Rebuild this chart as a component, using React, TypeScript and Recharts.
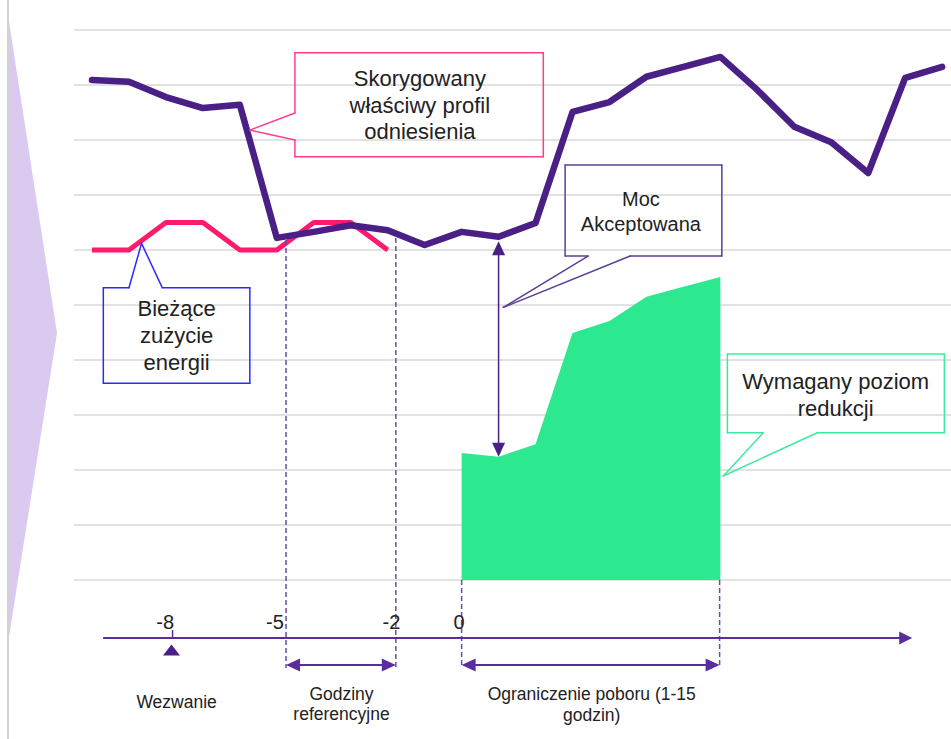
import {
  Area,
  CartesianGrid,
  ComposedChart,
  Line,
  ReferenceDot,
  ReferenceLine,
  XAxis,
  YAxis,
} from "recharts";

// hourly slots, 0 = call at -10h ... slot 10 = start of the restriction
const slots = [0, 1, 2, 3, 4, 5, 6, 7, 8, 9, 10, 11, 12, 13, 14, 15, 16, 17, 18, 19, 20, 21, 22, 23];
const referenceProfile = [
  9.09, 9.06, 8.78, 8.58, 8.64, 6.22, 6.33, 6.45, 6.36, 6.09, 6.33, 6.24,
  6.49, 8.51, 8.69, 9.15, 9.33, 9.51, 8.91, 8.24, 7.96, 7.4, 9.13, 9.33,
];
const currentUsage = [
  6, 6, 6.5, 6.5, 6, 6, 6.5, 6.5, 6, null, null, null,
  null, null, null, null, null, null, null, null, null, null, null, null,
];
const requiredReduction = [
  null, null, null, null, null, null, null, null, null, null, 2.31, 2.24,
  2.47, 4.49, 4.71, 5.15, 5.33, 5.51, null, null, null, null, null, null,
];
const gridValues = [0, 1, 2, 3, 4, 5, 6, 7, 8, 9, 10];
const hourLabels = ["-8", "-5", "-2", "0"];

const rows = slots.map((slot, i) => ({
  slot,
  profile: referenceProfile[i],
  current: currentUsage[i],
  reduction: requiredReduction[i],
}));

const PURPLE = "#4a1f86";
const PINK = "#ff1a6e";
const GREEN = "#2ce98f";
const AXIS = "#5a2d9c";
const DASH = "#6a4ca6";
const FONT = "'Liberation Sans', Arial, sans-serif";

// where the timeline marks sit, in slot units
const hourLabelX = [1.98, 4.95, 8.1, 9.93];
const AXIS_Y = -1.055;
const BRACKET_Y = -1.545;

function MultiLine({ cx, cy, lines, size, lh }: any) {
  const top = cy - ((lines.length - 1) * lh) / 2 + size * 0.36;
  return (
    <text textAnchor="middle" fontFamily={FONT} fontSize={size} fill="#222">
      {lines.map((l: string, i: number) => (
        <tspan key={i} x={cx} y={top + i * lh}>
          {l}
        </tspan>
      ))}
    </text>
  );
}

function textAt(id: string, x: number, y: number, lines: string[], size: number, lh = size * 1.2) {
  return (
    <ReferenceDot
      key={id}
      x={x}
      y={y}
      r={0}
      ifOverflow="visible"
      shape={(p: any) => <MultiLine cx={p.cx} cy={p.cy} lines={lines} size={size} lh={lh} />}
    />
  );
}

function arrowShape(start: boolean, end: boolean, color: string, width = 1.5, head = 14, half = 6.5) {
  return (p: any) => {
    const { x1, y1, x2, y2 } = p;
    const dx = x2 - x1;
    const dy = y2 - y1;
    const len = Math.hypot(dx, dy) || 1;
    const ux = dx / len;
    const uy = dy / len;
    const nx = -uy;
    const ny = ux;
    const tri = (tx: number, ty: number, sx: number, sy: number) =>
      `${tx},${ty} ${tx - sx * head + nx * half},${ty - sy * head + ny * half} ${tx - sx * head - nx * half},${ty - sy * head - ny * half}`;
    return (
      <g>
        <line
          x1={start ? x1 + ux * head * 0.7 : x1}
          y1={start ? y1 + uy * head * 0.7 : y1}
          x2={end ? x2 - ux * head * 0.7 : x2}
          y2={end ? y2 - uy * head * 0.7 : y2}
          stroke={color}
          strokeWidth={width}
        />
        {end && <polygon points={tri(x2, y2, ux, uy)} fill={color} />}
        {start && <polygon points={tri(x1, y1, -ux, -uy)} fill={color} />}
      </g>
    );
  };
}

function outline(id: string, pts: number[][], color: string) {
  return pts.slice(1).map((pt, i) => (
    <ReferenceLine
      key={`${id}-${i}`}
      segment={[
        { x: pts[i][0], y: pts[i][1] },
        { x: pt[0], y: pt[1] },
      ]}
      stroke={color}
      strokeWidth={1.5}
      strokeLinecap="round"
      ifOverflow="visible"
    />
  ));
}

function dashed(id: string, x: number, from: number, to: number) {
  return (
    <ReferenceLine
      key={id}
      segment={[
        { x, y: from },
        { x, y: to },
      ]}
      stroke={DASH}
      strokeWidth={1.5}
      strokeDasharray="5 3"
      ifOverflow="visible"
    />
  );
}

export default function App() {
  return (
    <div style={{ position: "absolute", left: 0, top: 0, width: 951, height: 739, background: "#fff" }}>
      <svg width={951} height={739} style={{ position: "absolute", left: 0, top: 0 }}>
        <polygon points="8,15 57,333 8,643" fill="#dacaef" />
        <line x1={8} y1={0} x2={8} y2={739} stroke="#d2d2d2" strokeWidth={2} />
      </svg>
      <div style={{ position: "absolute", left: 0, top: 0 }}>
        <ComposedChart width={951} height={739} data={rows} margin={{ top: 30, right: 0, bottom: 16, left: 74 }}>
          <CartesianGrid vertical={false} horizontalValues={gridValues} stroke="#d8d8d8" strokeWidth={1.5} />
          <XAxis dataKey="slot" type="number" domain={[-0.487, 23.24]} allowDataOverflow hide />
          <YAxis type="number" domain={[-2.6, 10]} allowDataOverflow hide />
          <Area
            type="linear"
            dataKey="reduction"
            baseValue={0}
            fill={GREEN}
            fillOpacity={1}
            stroke="none"
            isAnimationActive={false}
          />
          <Line
            type="linear"
            dataKey="current"
            stroke={PINK}
            strokeWidth={5}
            dot={false}
            strokeLinejoin="round"
            isAnimationActive={false}
          />
          <Line
            type="linear"
            dataKey="profile"
            stroke={PURPLE}
            strokeWidth={6.5}
            dot={false}
            strokeLinejoin="round"
            strokeLinecap="round"
            isAnimationActive={false}
          />

          {dashed("d1", 5.25, 6.18, -1.6)}
          {dashed("d2", 8.22, 6.22, -1.6)}
          {dashed("d3", 10, 0, -1.6)}
          {dashed("d4", 16.98, 0, -1.6)}

          <ReferenceLine
            segment={[
              { x: 11, y: referenceProfile[11] - 0.08 },
              { x: 11, y: requiredReduction[11] as number },
            ]}
            ifOverflow="visible"
            shape={arrowShape(true, true, PURPLE, 1.5, 14, 6.5)}
          />

          <ReferenceLine
            segment={[
              { x: 0.3, y: AXIS_Y },
              { x: 22.19, y: AXIS_Y },
            ]}
            ifOverflow="visible"
            shape={arrowShape(false, true, AXIS, 2, 13, 6.5)}
          />
          <ReferenceLine
            segment={[
              { x: 2.18, y: -0.909 },
              { x: 2.18, y: AXIS_Y },
            ]}
            stroke={AXIS}
            strokeWidth={1.5}
            ifOverflow="visible"
          />
          <ReferenceDot
            x={2.15}
            y={-1.282}
            r={0}
            ifOverflow="visible"
            shape={(p: any) => (
              <polygon
                points={`${p.cx},${p.cy - 6} ${p.cx + 8.5},${p.cy + 5} ${p.cx - 8.5},${p.cy + 5}`}
                fill={PURPLE}
              />
            )}
          />
          <ReferenceLine
            segment={[
              { x: 5.25, y: BRACKET_Y },
              { x: 8.22, y: BRACKET_Y },
            ]}
            ifOverflow="visible"
            shape={arrowShape(true, true, AXIS, 2, 14, 6.5)}
          />
          <ReferenceLine
            segment={[
              { x: 10, y: BRACKET_Y },
              { x: 16.98, y: BRACKET_Y },
            ]}
            ifOverflow="visible"
            shape={arrowShape(true, true, AXIS, 2, 14, 6.5)}
          />

          {outline(
            "skor",
            [
              [5.49, 8.49],
              [5.49, 9.587],
              [12.21, 9.587],
              [12.21, 7.696],
              [5.49, 7.696],
              [5.49, 8.0],
              [4.27, 8.18],
              [5.49, 8.49],
            ],
            "#ff3d8d",
          )}
          {outline(
            "moc",
            [
              [13.42, 5.89],
              [12.8, 5.89],
              [12.8, 7.545],
              [17.04, 7.545],
              [17.04, 5.89],
              [14.56, 5.89],
              [11.13, 4.958],
              [13.42, 5.89],
            ],
            "#5c3f96",
          )}
          {outline(
            "wym",
            [
              [18.16, 2.678],
              [17.19, 2.678],
              [17.19, 4.109],
              [23.06, 4.109],
              [23.06, 2.678],
              [19.62, 2.678],
              [17.08, 1.891],
              [18.16, 2.678],
            ],
            "#3eea9f",
          )}
          {outline(
            "biez",
            [
              [1.0, 5.315],
              [0.306, 5.315],
              [0.306, 3.576],
              [4.27, 3.576],
              [4.27, 5.315],
              [1.9, 5.315],
              [1.34, 6.12],
              [1.0, 5.315],
            ],
            "#2b2bff",
          )}

          {textAt("t-skor", 8.87, 8.636, ["Skorygowany", "właściwy profil", "odniesienia"], 22, 26.5)}
          {textAt("t-moc", 14.85, 6.7, ["Moc", "Akceptowana"], 20, 25)}
          {textAt("t-wym", 20.12, 3.38, ["Wymagany poziom", "redukcji"], 22, 27)}
          {textAt("t-biez", 2.29, 4.455, ["Bieżące", "zużycie", "energii"], 22, 26.7)}

          {hourLabels.map((h, i) => textAt(`h-${h}`, hourLabelX[i], -0.758, [h], 20))}

          {textAt("t-wez", 2.29, -2.213, ["Wezwanie"], 17.5)}
          {textAt("t-godz", 6.75, -2.24, ["Godziny", "referencyjne"], 17.5, 20)}
          {textAt("t-ogr", 13.52, -2.26, ["Ograniczenie poboru (1-15", "godzin)"], 17.5, 21.5)}
        </ComposedChart>
      </div>
    </div>
  );
}
